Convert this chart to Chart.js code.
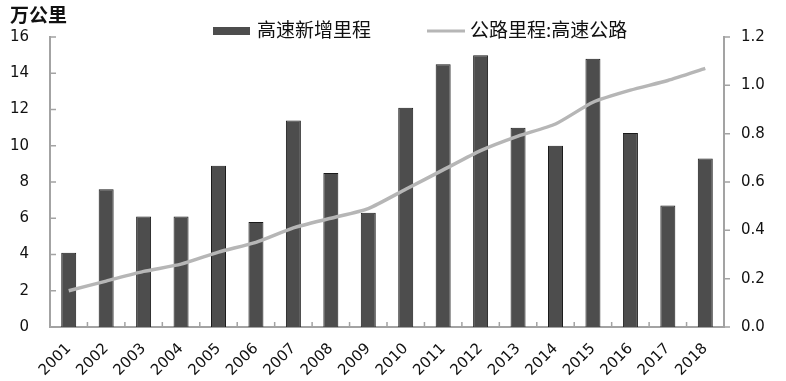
<!DOCTYPE html>
<html>
<head>
<meta charset="utf-8">
<script src="https://cdn.jsdelivr.net/npm/chart.js@4.4.0/dist/chart.umd.min.js"></script>
<style>
  html, body { margin: 0; padding: 0; background: #fff; }
  #wrap { width: 786px; height: 381px; }
</style>
</head>
<body>
<div id="wrap"><canvas id="myChart"></canvas></div>
<script>
var years = ['2001','2002','2003','2004','2005','2006','2007','2008','2009',
             '2010','2011','2012','2013','2014','2015','2016','2017','2018'];
// 高速新增里程 (left axis)
var newMileage = [4.1, 7.6, 6.1, 6.1, 8.9, 5.8, 11.4, 8.5, 6.3,
                  12.1, 14.5, 15.0, 11.0, 10.0, 14.8, 10.7, 6.7, 9.3];
// 公路里程:高速公路 (right axis)
var roadMileage = [0.15, 0.19, 0.23, 0.26, 0.31, 0.35, 0.41, 0.45, 0.49,
                   0.57, 0.65, 0.73, 0.79, 0.84, 0.93, 0.98, 1.02, 1.07];
var leftTicks = [0, 2, 4, 6, 8, 10, 12, 14, 16];
var rightTicks = [0, 0.2, 0.4, 0.6, 0.8, 1.0, 1.2];

var barColor = '#4d4d4d';
var lineColor = '#b6b6b6';
var axisColor = '#a3a3a3';
var textColor = '#111';
var tickFont = { family: '"DejaVu Sans", Verdana, sans-serif', size: 15 };
var cjkFont = '"Noto Sans CJK SC", sans-serif';

// title, legend and the small inward tick marks
var decorations = {
  id: 'decorations',
  afterDraw: function (chart) {
    var ctx = chart.ctx;
    var area = chart.chartArea;
    ctx.save();

    ctx.fillStyle = textColor;
    ctx.textBaseline = 'middle';
    ctx.font = 'bold 19px ' + cjkFont;
    ctx.fillText('万公里', 10, 15);

    ctx.font = '19px ' + cjkFont;
    ctx.fillStyle = barColor;
    ctx.fillRect(213, 27, 37, 8);
    ctx.fillStyle = textColor;
    ctx.fillText('高速新增里程', 257, 30);

    ctx.strokeStyle = lineColor;
    ctx.lineWidth = 3;
    ctx.beginPath();
    ctx.moveTo(427, 31);
    ctx.lineTo(465, 31);
    ctx.stroke();
    ctx.fillText('公路里程:高速公路', 470, 30);

    ctx.strokeStyle = axisColor;
    ctx.lineWidth = 1.5;
    ctx.beginPath();
    var yl = chart.scales.y;
    leftTicks.forEach(function (v) {
      var p = yl.getPixelForValue(v);
      ctx.moveTo(area.left, p);
      ctx.lineTo(area.left + 6, p);
    });
    var yr = chart.scales.y1;
    rightTicks.forEach(function (v) {
      var p = yr.getPixelForValue(v);
      ctx.moveTo(area.right, p);
      ctx.lineTo(area.right + 6, p);
    });
    var step = (area.right - area.left) / years.length;
    for (var i = 0; i <= years.length; i++) {
      var x = area.left + i * step;
      ctx.moveTo(x, area.bottom);
      ctx.lineTo(x, area.bottom - 5);
    }
    ctx.stroke();
    ctx.restore();
  }
};

var ctx = document.getElementById('myChart');
var myChart = new Chart(ctx, {
  type: 'bar',
  data: {
    labels: years,
    datasets: [
      {
        type: 'bar',
        label: '高速新增里程',
        data: newMileage,
        yAxisID: 'y',
        backgroundColor: barColor,
        borderColor: '#1a1a1a',
        borderWidth: 1,
        barPercentage: 0.4,
        categoryPercentage: 1,
        order: 1
      },
      {
        type: 'line',
        label: '公路里程:高速公路',
        data: roadMileage,
        yAxisID: 'y1',
        borderColor: lineColor,
        borderWidth: 3.5,
        pointRadius: 0,
        tension: 0.2,
        fill: false,
        order: 0
      }
    ]
  },
  options: {
    responsive: true,
    maintainAspectRatio: false,
    animation: false,
    layout: { padding: { top: 37, left: 10, right: 0, bottom: 0 } },
    plugins: {
      legend: { display: false },
      tooltip: { enabled: false }
    },
    scales: {
      x: {
        offset: true,
        grid: { display: false, drawTicks: false },
        border: { color: axisColor, width: 2 },
        ticks: {
          color: textColor,
          font: tickFont,
          maxRotation: 45,
          minRotation: 45,
          padding: 13,
          autoSkip: false
        },
        afterFit: function (scale) { scale.height = 54; }
      },
      y: {
        position: 'left',
        min: 0,
        max: 16,
        grid: { display: false, drawTicks: false },
        border: { color: axisColor, width: 2 },
        ticks: { color: textColor, font: tickFont, padding: 21 },
        afterBuildTicks: function (scale) {
          scale.ticks = leftTicks.map(function (v) { return { value: v }; });
        },
        afterFit: function (scale) { scale.width = 40; }
      },
      y1: {
        position: 'right',
        min: 0,
        max: 1.2,
        grid: { display: false, drawTicks: false },
        border: { color: axisColor, width: 2 },
        ticks: {
          color: textColor,
          font: tickFont,
          padding: 17,
          callback: function (v) { return Number(v).toFixed(1); }
        },
        afterBuildTicks: function (scale) {
          scale.ticks = rightTicks.map(function (v) { return { value: v }; });
        },
        afterFit: function (scale) { scale.width = 62; }
      }
    }
  },
  plugins: [decorations]
});
</script>
</body>
</html>
